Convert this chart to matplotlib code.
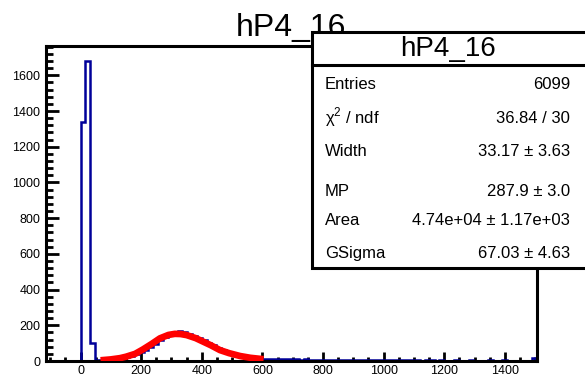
import matplotlib
matplotlib.use("Agg")
import matplotlib.pyplot as plt
from matplotlib.patches import Rectangle
from matplotlib.lines import Line2D
from matplotlib.ticker import MultipleLocator
import numpy as np

plt.rcParams['font.family'] = ['Liberation Sans', 'DejaVu Sans']
plt.rcParams['mathtext.fontset'] = 'custom'
plt.rcParams['mathtext.rm'] = 'Liberation Sans'

# histogramme : 101 bins de largeur 16, de -112 a 1504
hist_lo = -112
bin_width = 16
counts = [0, 0, 0, 0, 0, 0, 0,
          1340, 1680, 100,
          3, 4, 6, 8, 11, 15, 21, 28, 38, 50, 64, 80, 98, 116, 133, 150, 162,
          166, 160, 152, 140, 128, 115, 101, 87, 74, 62, 52, 43, 36, 30, 25,
          21, 17, 14,
          14, 12, 12, 10, 11, 9, 9, 8, 9, 7, 8, 7, 6, 7, 6, 5, 6, 5, 5, 4,
          5, 4, 4, 4, 3, 4, 3, 3, 4, 3, 3, 3, 2, 3, 3, 2, 3, 2, 2, 3, 2, 2,
          3, 2, 2, 2, 3, 2, 2, 3, 2, 2, 2, 2, 2, 18]

# courbe du fit (Landau x Gauss)
fit_x = [66, 100, 130, 150, 180, 206, 235, 262, 290, 311, 330, 350, 380,
         405, 430, 460, 490, 526, 560, 604]
fit_y = [4, 9, 16, 24, 40, 65, 96, 127, 146, 152, 151, 145, 128,
         108, 88, 61, 44, 28, 18, 10]

titre = "hP4_16"
stat_noms = ["Entries", "\u03c7$^{2}$ / ndf", "Width", "MP", "Area", "GSigma"]
stat_vals = ["6099", "36.84 / 30", "33.17 \u00b1 3.63", "287.9 \u00b1 3.0",
             "4.74e+04 \u00b1 1.17e+03", "67.03 \u00b1 4.63"]

W, H = 585, 378
fig = plt.figure(figsize=(W / 100, H / 100), dpi=100)
ax = fig.add_axes([46 / W, 1 - 361 / H, (537 - 46) / W, (361 - 46) / H])

edges = hist_lo + bin_width * np.arange(len(counts) + 1)
ax.stairs(counts, edges, color='#000099', linewidth=1.8, zorder=2)
ax.plot(fit_x, fit_y, color='red', linewidth=4.8, solid_capstyle='butt', zorder=3)

ax.set_xlim(-114, 1506)
ax.set_ylim(0, 1764)
ax.xaxis.set_major_locator(MultipleLocator(200))
ax.xaxis.set_minor_locator(MultipleLocator(50))
ax.yaxis.set_major_locator(MultipleLocator(200))
ax.yaxis.set_minor_locator(MultipleLocator(40))
ax.tick_params(axis='both', which='both', direction='in', width=2, labelsize=9,
               top=False, right=False)
ax.tick_params(axis='x', which='major', length=6.5, pad=3)
ax.tick_params(axis='x', which='minor', length=3.2)
ax.tick_params(axis='y', which='major', length=9.5, pad=4)
ax.tick_params(axis='y', which='minor', length=4.8)
for s in ax.spines.values():
    s.set_linewidth(2.2)

# titre principal (sous la boite de stats)
fig.text(291 / W, 1 - 36.5 / H, titre, ha='center', va='baseline',
         fontsize=23, zorder=4)

# boite de stats
bx0, bx1, by0, by1, bsep = 311.7, 592, 268, 31.7, 65
fig.patches.append(Rectangle((bx0 / W, 1 - by0 / H), (bx1 - bx0) / W, (by0 - by1) / H,
                             transform=fig.transFigure, facecolor='white',
                             edgecolor='black', linewidth=2.2, zorder=5))
fig.lines.append(Line2D([bx0 / W, bx1 / W], [1 - bsep / H, 1 - bsep / H],
                        transform=fig.transFigure, color='black', linewidth=2.2, zorder=6))
fig.text(448 / W, 1 - 56 / H, titre, ha='center', va='baseline', fontsize=20, zorder=6)

bases = [89.3, 123, 156, 196, 225, 258]
for nom, val, yb in zip(stat_noms, stat_vals, bases):
    fig.text(325 / W, 1 - yb / H, nom, ha='left', va='baseline', fontsize=12, zorder=6)
    fig.text(570 / W, 1 - yb / H, val, ha='right', va='baseline', fontsize=12, zorder=6)

fig.savefig("out.png", dpi=100)
